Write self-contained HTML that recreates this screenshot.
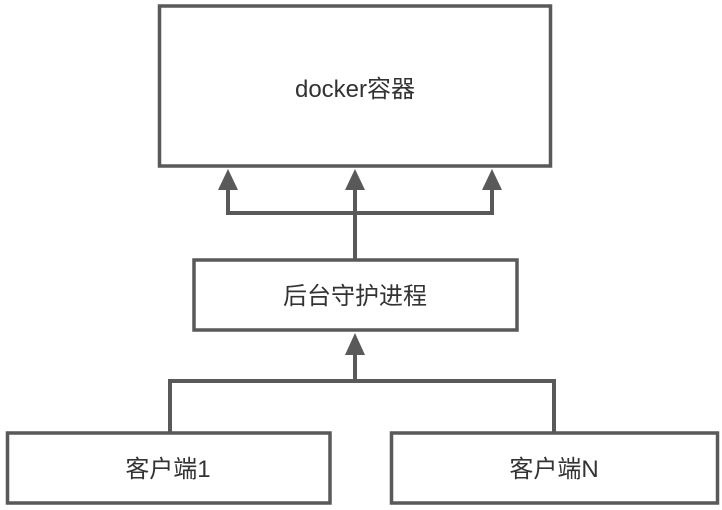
<!DOCTYPE html>
<html><head><meta charset="utf-8"><style>
html,body{margin:0;padding:0;background:#fff;}
svg{display:block;}
text{font-family:"Liberation Sans","Noto Sans CJK SC",sans-serif;fill:#333;font-size:24px;}
</style></head><body>
<svg width="722" height="510" viewBox="0 0 722 510" xmlns="http://www.w3.org/2000/svg">
<g fill="#fff" stroke="#595959" stroke-width="3.5">
<rect x="159.5" y="6" width="391" height="160"/>
<rect x="194" y="260" width="323" height="70"/>
<rect x="7.5" y="433" width="322.5" height="70"/>
<rect x="391.5" y="433" width="326" height="70"/>
</g>
<g fill="none" stroke="#595959" stroke-width="4">
<polyline points="228,188 228,213 492,213 492,188"/>
<line x1="355" y1="188" x2="355" y2="260"/>
<polyline points="170,433 170,381 554,381 554,433"/>
<line x1="355" y1="355" x2="355" y2="381"/>
</g>
<g fill="#595959">
<polygon points="228,169 218,190 238,190"/>
<polygon points="355,169 345,190 365,190"/>
<polygon points="492,169 482,190 502,190"/>
<polygon points="355,333 345,355 365,355"/>
</g>
<g text-anchor="middle">
<text x="355" y="97">docker容器</text>
<text x="355" y="304">后台守护进程</text>
<text x="168" y="477">客户端1</text>
<text x="554" y="477">客户端N</text>
</g>
</svg>
</body></html>
